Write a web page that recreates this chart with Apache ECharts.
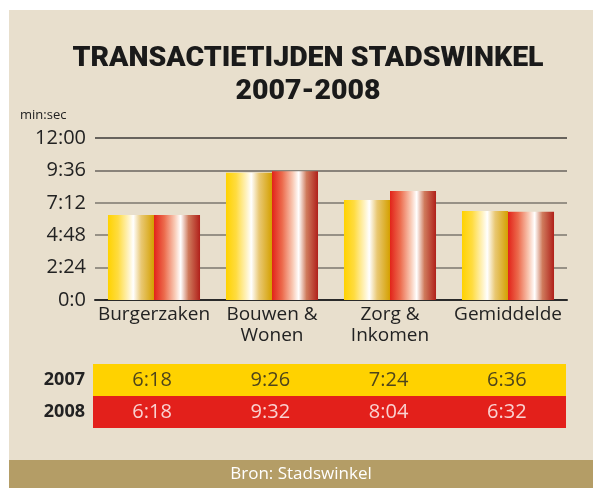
<!DOCTYPE html>
<html>
<head>
<meta charset="utf-8">
<script src="https://cdn.jsdelivr.net/npm/echarts@6/dist/echarts.min.js"></script>
<style>
  html, body { margin: 0; padding: 0; background: #fff; }
</style>
</head>
<body>
<div id="chart" style="width:593px;height:488px;"></div>
<script>
  const categories = ['Burgerzaken', 'Bouwen &\nWonen', 'Zorg &\nInkomen', 'Gemiddelde'];
  const years = ['2007', '2008'];
  // seconds
  const sec2007 = [378, 566, 444, 396];
  const sec2008 = [378, 572, 484, 392];
  const yMax = 720;
  const yStep = 144;

  function fmt(s) {
    if (s === 0) return '0:0';
    const m = Math.floor(s / 60), r = s % 60;
    return m + ':' + (r < 10 ? '0' + r : r);
  }

  const font = 'Open Sans';
  const yellowGrad = new echarts.graphic.LinearGradient(0, 0, 1, 0, [
    { offset: 0, color: '#ffd200' },
    { offset: 0.22, color: '#ffdc40' },
    { offset: 0.45, color: '#fff3c4' },
    { offset: 0.55, color: '#ffffff' },
    { offset: 0.72, color: '#e9c873' },
    { offset: 1, color: '#d4a000' }
  ]);
  const redGrad = new echarts.graphic.LinearGradient(0, 0, 1, 0, [
    { offset: 0, color: '#e2231a' },
    { offset: 0.22, color: '#ec6a4c' },
    { offset: 0.45, color: '#f9c9b4' },
    { offset: 0.58, color: '#ffffff' },
    { offset: 0.75, color: '#cf7a5c' },
    { offset: 1, color: '#b0201a' }
  ]);

  const chart = echarts.init(document.getElementById('chart'));
  chart.setOption({
    animation: false,
    textStyle: { fontFamily: font },
    graphic: [
      { type: 'rect', z: -10, shape: { x: 9, y: 10, width: 584, height: 478 }, style: { fill: '#e8dfcd' } },
      { type: 'rect', z: -9, shape: { x: 9, y: 460, width: 584, height: 28 }, style: { fill: '#b49d66' } },
      { type: 'text', x: 301, y: 474, style: { text: 'Bron: Stadswinkel', fill: '#fff', font: '17px "Open Sans"', align: 'center', verticalAlign: 'middle' } },
      { type: 'text', x: 20, y: 115, style: { text: 'min:sec', fill: '#222', font: '13px "Open Sans"', verticalAlign: 'middle' } }
    ],
    title: {
      text: 'TRANSACTIETIJDEN STADSWINKEL\n2007-2008',
      left: 303,
      top: 37,
      textAlign: 'center',
      textStyle: { fontFamily: 'Roboto', fontSize: 28.5, fontWeight: 900, color: '#1a1a1a', lineHeight: 33 }
    },
    grid: [
      { left: 95, right: 26, top: 138, bottom: 188 },
      { left: 93, right: 27, top: 364, height: 64 }
    ],
    xAxis: [
      {
        type: 'category', data: categories, gridIndex: 0,
        axisLine: { lineStyle: { color: '#2a2a2a', width: 2 } },
        axisTick: { show: false },
        axisLabel: { color: '#222', fontSize: 19, lineHeight: 21, margin: 4, interval: 0 }
      },
      {
        type: 'category', data: categories, gridIndex: 1,
        axisLine: { show: false }, axisTick: { show: false }, axisLabel: { show: false }
      }
    ],
    yAxis: [
      {
        type: 'value', gridIndex: 0, min: 0, max: yMax, interval: yStep,
        axisLine: { show: false }, axisTick: { show: false },
        axisLabel: { color: '#222', fontSize: 20, margin: 9, formatter: v => fmt(v) },
        splitLine: { lineStyle: { color: ['#333', '#7d776e', '#7d776e', '#7d776e', '#6a655e', '#3c3a37'], width: 1.5 } }
      },
      {
        type: 'category', data: years, gridIndex: 1, inverse: true,
        axisLine: { show: false }, axisTick: { show: false },
        axisLabel: { color: '#222', fontSize: 18, fontWeight: 'bold', margin: 8 },
        splitLine: { show: false },
        splitArea: { show: true, areaStyle: { color: ['#ffd200', '#e3201b'] } }
      }
    ],
    series: [
      {
        name: '2007', type: 'bar', data: sec2007, barGap: '0%', barCategoryGap: '22%',
        itemStyle: { color: yellowGrad }
      },
      {
        name: '2008', type: 'bar', data: sec2008,
        itemStyle: { color: redGrad }
      },
      {
        type: 'scatter', xAxisIndex: 1, yAxisIndex: 1, symbolSize: 0,
        data: sec2007.map((v, i) => [i, 0, v]),
        label: { show: true, position: 'inside', formatter: p => fmt(p.value[2]), color: '#222', fontSize: 20 }
      },
      {
        type: 'scatter', xAxisIndex: 1, yAxisIndex: 1, symbolSize: 0,
        data: sec2008.map((v, i) => [i, 1, v]),
        label: { show: true, position: 'inside', formatter: p => fmt(p.value[2]), color: '#fff', fontSize: 20 }
      }
    ]
  });
</script>
</body>
</html>
